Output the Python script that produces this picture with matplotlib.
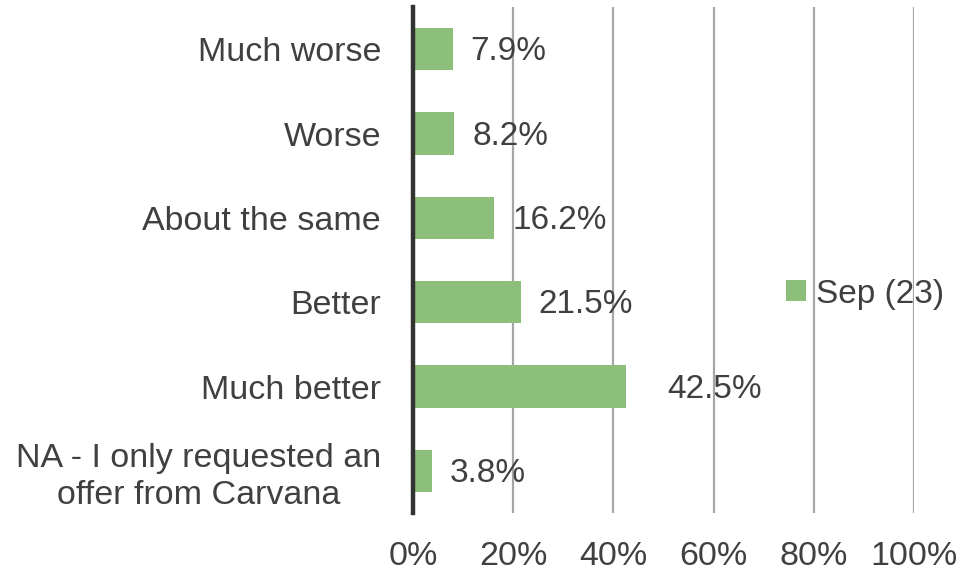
import matplotlib.pyplot as plt
import numpy as np

# donnees
categories = ["Much worse", "Worse", "About the same", "Better", "Much better",
              "NA - I only requested an\noffer from Carvana"]
values = [7.9, 8.2, 16.2, 21.5, 42.5, 3.8]
series_name = "Sep (23)"
x_ticks = [0, 20, 40, 60, 80, 100]

green = "#8cbf7a"
text_col = "#404040"

plt.rcParams['font.family'] = ['Liberation Sans', 'DejaVu Sans']

fig = plt.figure(figsize=(9.62, 5.77), dpi=100)
ax = fig.add_axes([413 / 962, 1 - 513 / 577, (914 - 413) / 962, (513 - 7) / 577])

y = np.arange(len(categories))
bars = ax.barh(y, values, height=0.5, color=green, label=series_name, zorder=2)

ax.set_ylim(len(categories) - 0.5, -0.5)
ax.set_xlim(0, 100)

# grille verticale
ax.set_xticks(x_ticks)
ax.set_xticklabels([f"{t}%" for t in x_ticks])
ax.xaxis.grid(True, color="#a6a6a6", linewidth=1.6, zorder=0)
ax.axvline(0, color="#333333", linewidth=3.2, zorder=3, clip_on=False)

ax.set_yticks(y)
ax.set_yticklabels(categories, multialignment="center", linespacing=1.22)

for s in ax.spines.values():
    s.set_visible(False)
ax.tick_params(length=0, labelsize=24.5, colors=text_col)
ax.tick_params(axis='y', pad=23)
ax.tick_params(axis='x', pad=20)

# etiquettes de donnees
offsets = [13, 13, 13, 13, 30, 13]
for i, (v, off) in enumerate(zip(values, offsets)):
    ax.annotate(f"{v:.1f}%", (v, i), xytext=(off, -2), textcoords="offset points",
                ha="left", va="center", fontsize=24, color=text_col, zorder=4)

leg = ax.legend(loc="center left", bbox_to_anchor=(786 / 962, 1 - 294 / 577),
                bbox_transform=fig.transFigure, frameon=False, fontsize=24,
                handlelength=0.6, handleheight=0.6, handletextpad=0.3,
                borderpad=0, borderaxespad=0)
for t in leg.get_texts():
    t.set_color(text_col)

fig.savefig("out.png", dpi=100)
